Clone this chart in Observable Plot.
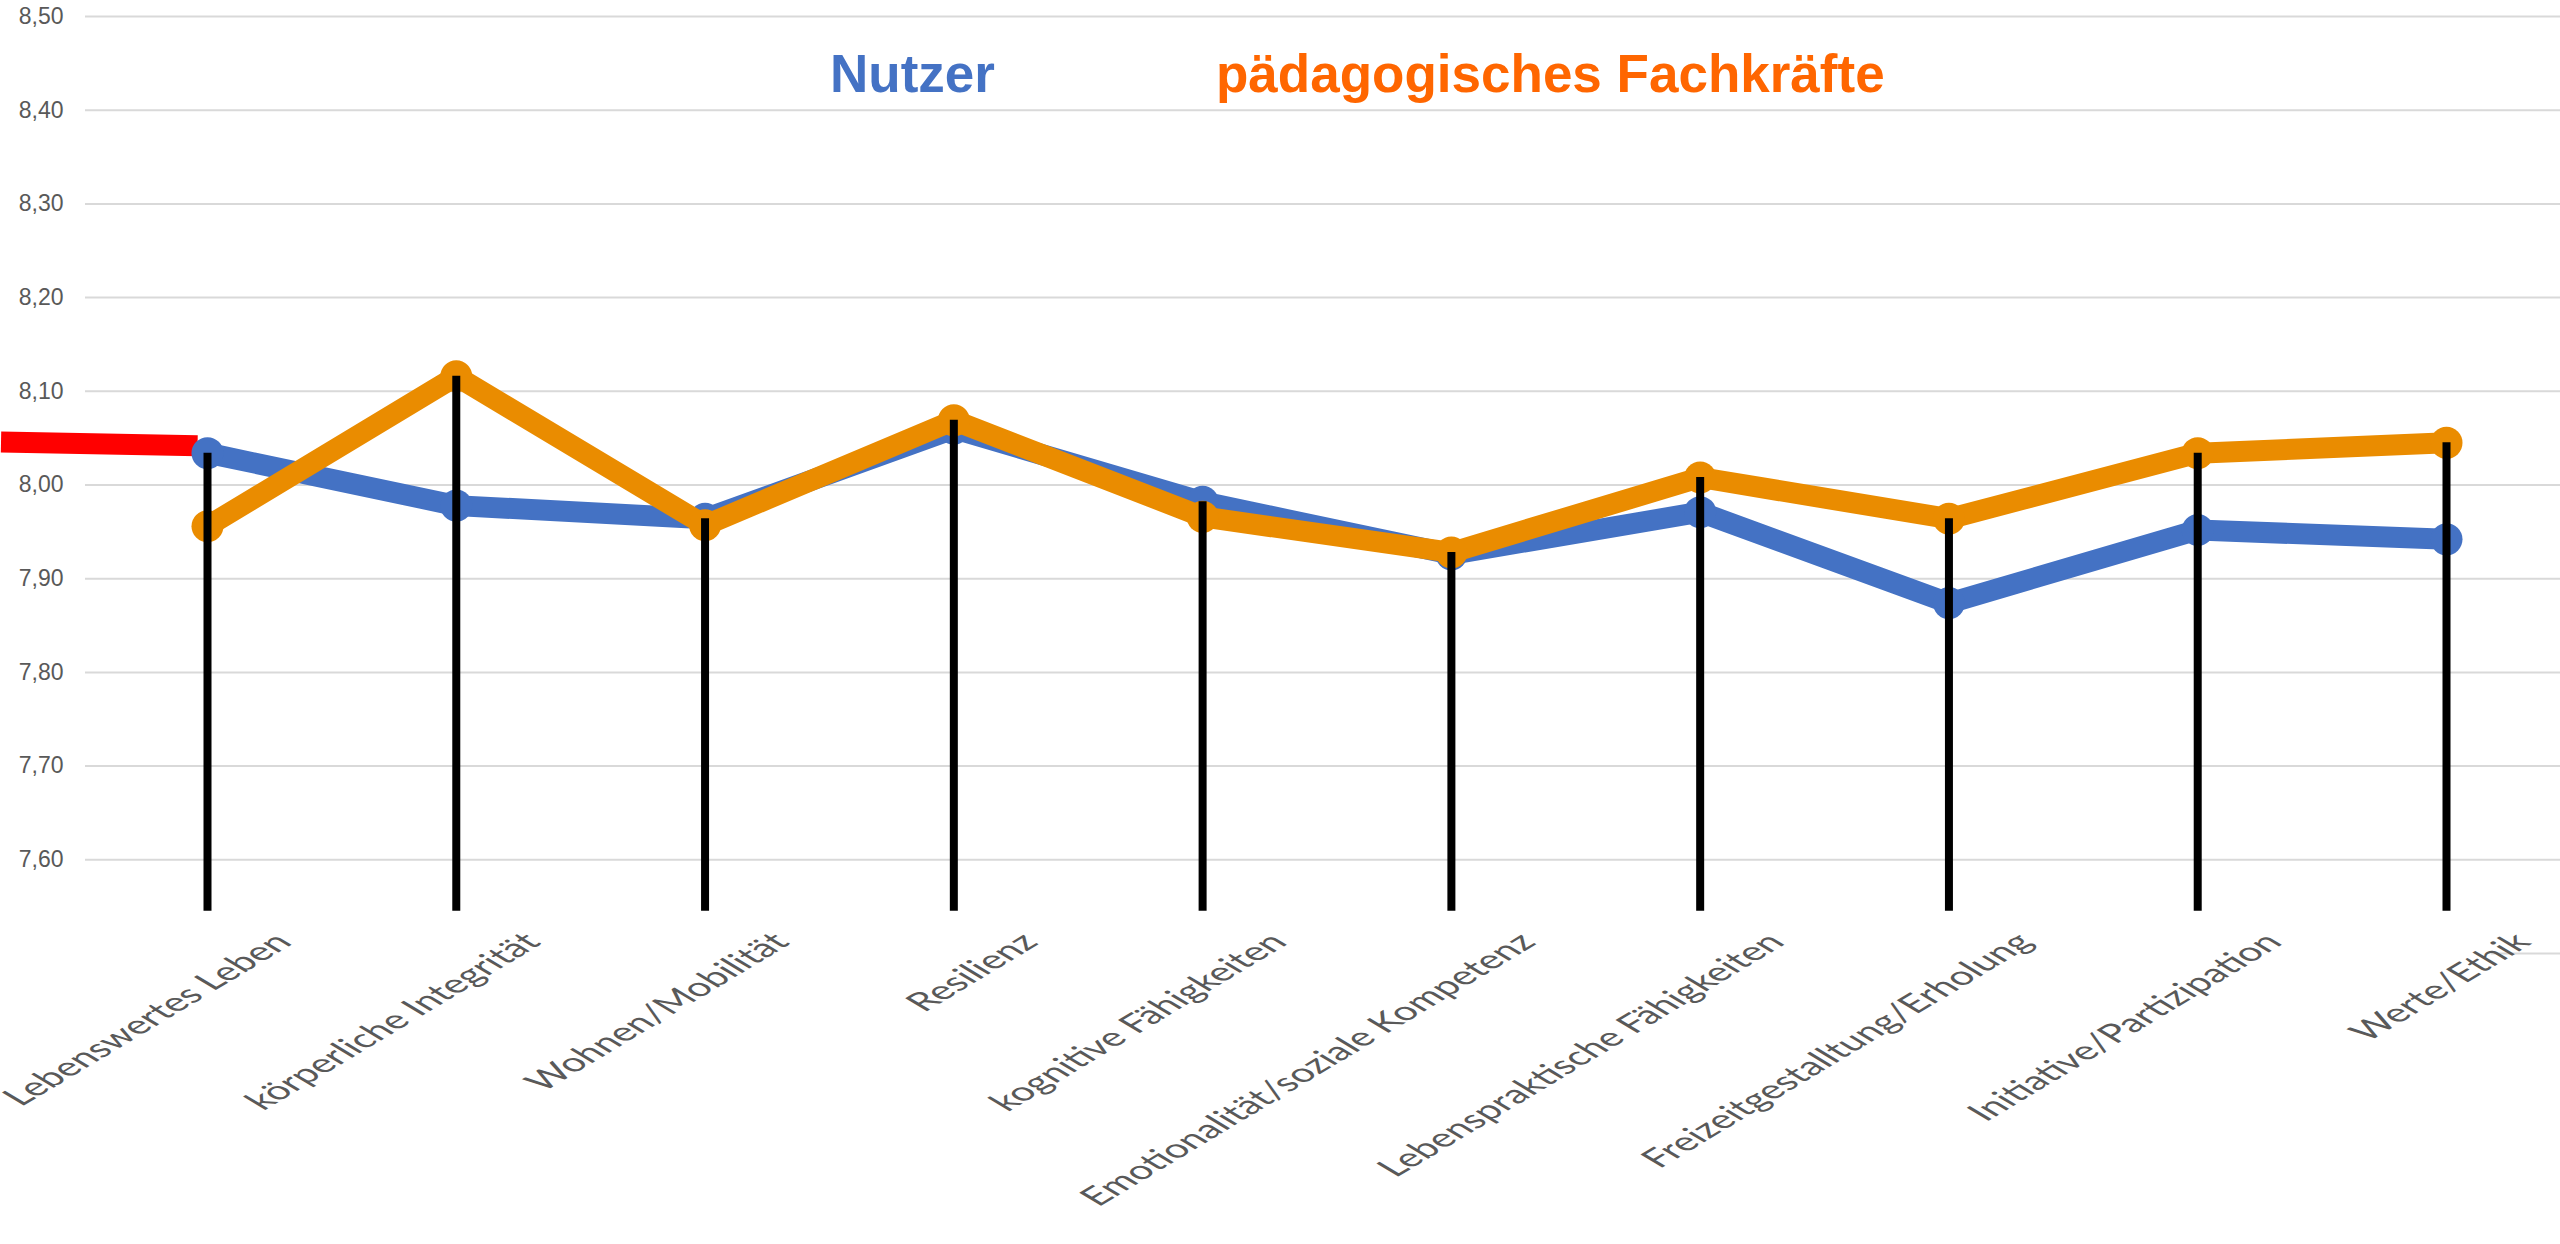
<!DOCTYPE html>
<html>
<head>
<meta charset="utf-8">
<script src="https://cdn.jsdelivr.net/npm/d3@7"></script>
<script src="https://cdn.jsdelivr.net/npm/@observablehq/plot@0.6"></script>
<style>
  html, body { margin: 0; padding: 0; background: #ffffff; }
  #wrap { position: relative; width: 2560px; height: 1244px; overflow: hidden; }
  .ttl { position: absolute; font-family: "Liberation Sans", Arial, sans-serif; font-weight: bold; font-size: 53px; line-height: 1; white-space: nowrap; }
</style>
</head>
<body>
<div id="wrap">
  <div id="chart"></div>
  <div class="ttl" style="left:830px; top:47px; color:#4472C4;">Nutzer</div>
  <div class="ttl" style="left:1216px; top:47px; color:#FF6600;">pädagogisches Fachkräfte</div>
</div>
<script>
const categories = [
  "Lebenswertes Leben",
  "körperliche Integrität",
  "Wohnen/Mobilität",
  "Resilienz",
  "kognitive Fähigkeiten",
  "Emotionalität/soziale Kompetenz",
  "Lebenspraktische Fähigkeiten",
  "Freizeitgestalltung/Erholung",
  "Initiative/Partizipation",
  "Werte/Ethik"
];
const nutzer      = [8.034, 7.978, 7.964, 8.060, 7.982, 7.926, 7.971, 7.874, 7.952, 7.942];
const fachkraefte = [7.956, 8.116, 7.957, 8.069, 7.966, 7.928, 8.008, 7.964, 8.034, 8.045];
const yTicks = [7.6, 7.7, 7.8, 7.9, 8.0, 8.1, 8.2, 8.3, 8.4, 8.5];
const yDomain = [7.5, 8.5];
const dropLineBottom = 7.545;
const redMarkX = [-0.83, -0.04];
const redMarkY = [8.046, 8.042];
const axisLineX = [9.18, 9.6];
const labelStretch = 1.664; // horizontal stretch of the rotated category labels

const rows = categories.map((c, i) => ({i, cat: c, n: nutzer[i], f: fachkraefte[i]}));
const red = redMarkX.map((x, k) => ({x, y: redMarkY[k]}));

const chart = Plot.plot({
  width: 2560,
  height: 1244,
  marginLeft: 85,
  marginRight: 0,
  marginTop: 16,
  marginBottom: 291,
  x: {domain: [0, categories.length - 1], range: [207, 2446], axis: null},
  y: {domain: yDomain, range: [953, 16], axis: null},
  style: {background: "#ffffff", fontFamily: "'Liberation Sans', Arial, sans-serif", overflow: "visible"},
  marks: [
    Plot.ruleY(yTicks, {stroke: "#D9D9D9", strokeWidth: 2}),
    Plot.ruleY([yDomain[0]], {x1: axisLineX[0], x2: axisLineX[1], stroke: "#D9D9D9", strokeWidth: 2}),
    Plot.axisY({
      ticks: yTicks, anchor: "left", tickSize: 0, tickPadding: 22,
      tickFormat: d => d.toFixed(2).replace(".", ","),
      fontSize: 23, color: "#595959"
    }),
    Plot.line(red, {x: "x", y: "y", stroke: "#FF0000", strokeWidth: 21, strokeLinecap: "butt"}),
    Plot.line(rows, {x: "i", y: "n", stroke: "#4472C4", strokeWidth: 21, strokeLinejoin: "round"}),
    Plot.dot(rows, {x: "i", y: "n", r: 16, fill: "#4472C4", stroke: "none"}),
    Plot.line(rows, {x: "i", y: "f", stroke: "#EA8C00", strokeWidth: 21, strokeLinejoin: "round"}),
    Plot.dot(rows, {x: "i", y: "f", r: 16, fill: "#EA8C00", stroke: "none"}),
    Plot.ruleX(rows, {x: "i", y1: dropLineBottom, y2: d => Math.max(d.n, d.f), stroke: "#000000", strokeWidth: 8}),
    Plot.text(rows, {
      x: "i", frameAnchor: "bottom", text: "cat", rotate: -45, textAnchor: "end",
      dx: 86, dy: -10, fontSize: 25.8, fill: "#595959", fontFamily: "Lato, 'Open Sans', sans-serif"
    })
  ]
});
// stretch the rotated labels horizontally, as in the reference
chart.querySelectorAll("text").forEach(el => {
  const t = el.getAttribute("transform") || "";
  if (t.includes("rotate(")) {
    el.setAttribute("transform", t.replace(/rotate\(/, `scale(${labelStretch},1) rotate(`));
  }
});
document.getElementById("chart").appendChild(chart);
</script>
</body>
</html>
